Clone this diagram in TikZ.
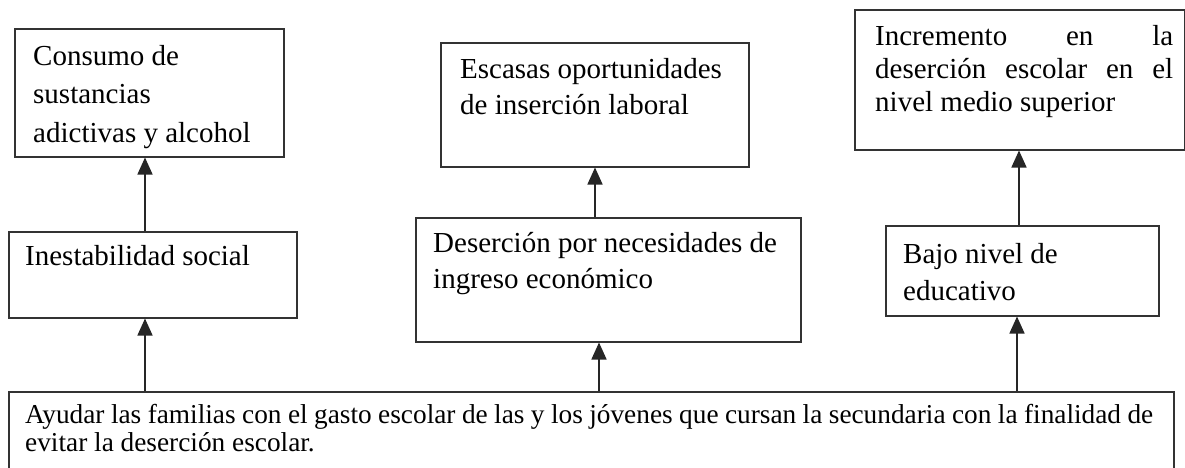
\documentclass[tikz,border=0pt]{standalone}
\usepackage{fontspec}
\setmainfont{Liberation Serif}
\usetikzlibrary{arrows.meta,positioning}

\newcommand{\renglones}[4][29]{\parbox[t]{#2pt}{\fontsize{#1}{#3}\selectfont #4}}

\begin{document}
\begin{tikzpicture}[x=1pt,y=-1pt,
  caja/.style={draw=black!80, line width=1.5pt, rectangle, inner sep=0pt, anchor=north west},
  texto/.style={inner sep=0pt, anchor=base west, font=\fontsize{29}{38}\selectfont},
  flecha/.style={draw=black!85, line width=1.5pt, -{Triangle[width=15pt,length=17pt]}}]

\useasboundingbox[fill=white] (0,0) rectangle (1185,467);
\clip (0,0) rectangle (1185,467);

% columnas de las flechas
\coordinate (k1) at (145,0);
\coordinate (k2) at (595,0);
\coordinate (k2b) at (599,0);
\coordinate (k3) at (1019,0);
\coordinate (k3b) at (1017,0);

% consecuencias (arriba)
\node[caja, minimum width=269pt, minimum height=128pt] (c1) at (14,28) {};
\node[caja, minimum width=308pt, minimum height=124pt] (c2) at (440,42) {};
\node[caja, minimum width=330pt, minimum height=140pt] (c3) at (854,9) {};

% efectos (en medio)
\node[caja, minimum width=288pt, minimum height=86pt] (e1) at (8,231) {};
\node[caja, minimum width=385pt, minimum height=124pt] (e2) at (415,217) {};
\node[caja, minimum width=273pt, minimum height=90pt] (e3) at (885,225) {};

% objetivo (abajo)
\node[caja, minimum width=1165pt, minimum height=90pt] (obj) at (8,391) {};

% textos
\node[texto] (c1t) at (33,65) {\renglones{250}{38.5}{Consumo de\\ sustancias\\ adictivas y alcohol}};
\node[texto] (c2t) at (460,78) {\renglones{285}{36}{Escasas oportunidades\\ de inserción laboral}};
\node[texto] (c3t) at (875,45) {\renglones{300}{33}{%
  \makebox[298pt][s]{Incremento en la}\\
  \makebox[298pt][s]{deserción escolar en el}\\
  nivel medio superior}};
\node[texto] (e1t) at (25,265) {Inestabilidad social};
\node[texto] (e2t) at (433,252) {\renglones{360}{36}{Deserción por necesidades de\\ ingreso económico}};
\node[texto] (e3t) at (903,263) {\renglones{250}{37}{Bajo nivel de\\ educativo}};
\node[texto] (objt) at (25,423) {\renglones[27.3]{1140}{28}{%
  \makebox[1128pt][s]{Ayudar las familias con el gasto escolar de las y los jóvenes que cursan la secundaria con la finalidad de}\\
  evitar la deserción escolar.}};

% flechas
\draw[flecha] (obj.north -| k1) -- (e1.south -| k1);
\draw[flecha] (e1.north -| k1) -- (c1.south -| k1);
\draw[flecha] (obj.north -| k2b) -- (e2.south -| k2b);
\draw[flecha] (e2.north -| k2) -- (c2.south -| k2);
\draw[flecha] (obj.north -| k3b) -- (e3.south -| k3b);
\draw[flecha] (e3.north -| k3) -- (c3.south -| k3);

\end{tikzpicture}
\end{document}
